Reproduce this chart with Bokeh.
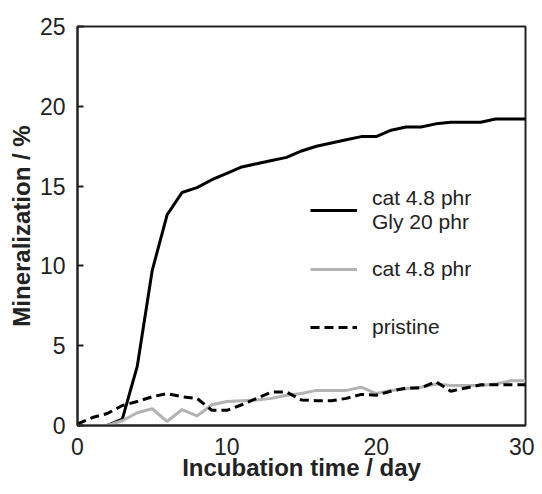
from bokeh.plotting import figure
from bokeh.models import Range1d, Legend, LegendItem, FixedTicker
from bokeh.embed import file_html
from bokeh.resources import INLINE

days = list(range(0, 31))
cat_gly = [0, 0, 0, 0.4, 3.7, 9.7, 13.2, 14.6, 14.9, 15.4, 15.8, 16.2, 16.4, 16.6, 16.8,
           17.2, 17.5, 17.7, 17.9, 18.1, 18.1, 18.5, 18.7, 18.7, 18.9, 19.0, 19.0, 19.0,
           19.2, 19.2, 19.2]
cat_only = [0, 0, 0, 0.3, 0.8, 1.05, 0.25, 1.0, 0.6, 1.3, 1.5, 1.55, 1.6, 1.7, 1.9,
            2.0, 2.2, 2.2, 2.2, 2.4, 2.0, 2.2, 2.3, 2.4, 2.6, 2.5, 2.5, 2.5, 2.6, 2.8, 2.8]
pristine = [0.1, 0.5, 0.75, 1.25, 1.5, 1.8, 2.0, 1.8, 1.7, 0.95, 0.95, 1.3, 1.7, 2.1, 2.1,
            1.6, 1.55, 1.55, 1.7, 1.95, 1.9, 2.15, 2.35, 2.35, 2.75, 2.15, 2.35, 2.55,
            2.55, 2.55, 2.55]
x_ticks = [0, 10, 20, 30]
y_ticks = [0, 5, 10, 15, 20, 25]
labels = ["cat 4.8 phr\nGly 20 phr", "cat 4.8 phr", "pristine"]

FONT = "Liberation Sans"
TXT = "#222222"

p = figure(width=534, height=486, output_backend="svg", toolbar_location=None,
           x_range=Range1d(0, 30), y_range=Range1d(0, 25),
           min_border_left=77, min_border_right=9, min_border_top=26, min_border_bottom=61)
p.grid.visible = False
p.outline_line_color = "#222222"
p.outline_line_width = 2
p.background_fill_color = "white"
p.border_fill_color = "white"

r1 = p.line(days, cat_gly, line_color="black", line_width=3)
r2 = p.line(days, cat_only, line_color="#b3b3b3", line_width=3)
r3 = p.line(days, pristine, line_color="black", line_width=3, line_dash="9 5")

for ax in (p.xaxis[0], p.yaxis[0]):
    ax.axis_line_color = "#222222"
    ax.axis_line_width = 2
    ax.major_tick_line_color = "#222222"
    ax.major_tick_line_width = 2
    ax.minor_tick_line_color = None
    ax.major_label_text_font = FONT
    ax.major_label_text_font_size = "23px"
    ax.major_label_text_color = TXT
    ax.axis_label_text_font = FONT
    ax.axis_label_text_font_size = "24px"
    ax.axis_label_text_font_style = "bold"
    ax.axis_label_text_color = TXT

p.xaxis.ticker = FixedTicker(ticks=x_ticks)
p.yaxis.ticker = FixedTicker(ticks=y_ticks)
p.xaxis.major_tick_in = 0
p.xaxis.major_tick_out = 0
p.yaxis.major_tick_in = 6
p.yaxis.major_tick_out = 0
p.xaxis.major_label_standoff = 12
p.yaxis.major_label_standoff = 12
p.xaxis.axis_label = "Incubation time / day"
p.yaxis.axis_label = "Mineralization / %"
p.xaxis.axis_label_standoff = -4
p.yaxis.axis_label_standoff = 2

legend = Legend(items=[LegendItem(label=labels[0], renderers=[r1]),
                       LegendItem(label=labels[1], renderers=[r2]),
                       LegendItem(label=labels[2], renderers=[r3])],
                location=(233, 75), padding=0, margin=0, spacing=12,
                glyph_width=47, glyph_height=20, label_height=46,
                label_standoff=15, label_text_font=FONT, label_text_font_size="21px",
                label_text_color=TXT, border_line_alpha=0, background_fill_alpha=0)
p.add_layout(legend, "center")

open("out.html", "w").write(file_html(p, INLINE))
